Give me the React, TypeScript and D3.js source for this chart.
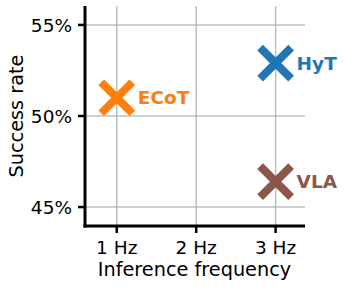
import React from 'react';
import * as d3 from 'd3';

const models = ['ECoT', 'HyT', 'VLA'];
const frequencies = [1, 3, 3];
const successRates = [51.0, 52.9, 46.4];
const colors = ['#ff7f0e', '#1f77b4', '#8c564b'];
const xTicks = [1, 2, 3];
const yTicks = [45, 50, 55];

const W = 346;
const H = 287;
const margin = { top: 6, right: 41, bottom: 61, left: 85 };
const font = 'DejaVu Sans, sans-serif';

const App: React.FC = () => {
  const x = d3.scaleLinear().domain([0.6, 3.37]).range([margin.left, W - margin.right]);
  const y = d3.scaleLinear().domain([43.96, 56.04]).range([H - margin.bottom, margin.top]);
  const [x0, x1] = x.range();
  const [y0, y1] = y.range();
  const arm = 15.5;

  return (
    <svg width={W} height={H} style={{ position: 'absolute', left: 0, top: 0 }} fontFamily={font}>
      <rect width={W} height={H} fill="#fff" />
      {/* grid */}
      {xTicks.map(t => (
        <line key={'gx' + t} x1={x(t)} x2={x(t)} y1={y0} y2={y1} stroke="#b0b0b0" strokeWidth={1.5} strokeOpacity={0.8} />
      ))}
      {yTicks.map(t => (
        <line key={'gy' + t} x1={x0} x2={x1} y1={y(t)} y2={y(t)} stroke="#b0b0b0" strokeWidth={1.5} strokeOpacity={0.8} />
      ))}
      {/* markers */}
      {models.map((m, i) => {
        const cx = x(frequencies[i]);
        const cy = y(successRates[i]);
        return (
          <g key={m}>
            <path
              d={`M${cx - arm},${cy - arm}L${cx + arm},${cy + arm}M${cx - arm},${cy + arm}L${cx + arm},${cy - arm}`}
              stroke={colors[i]}
              strokeWidth={8}
              fill="none"
            />
            <text x={cx + 21} y={cy} dy="0.36em" fill={colors[i]} fontWeight="bold" fontSize={18.5}>
              {m}
            </text>
          </g>
        );
      })}
      {/* spines */}
      <line x1={x0} x2={x0} y1={y0 + 1.5} y2={y1} stroke="#000" strokeWidth={3} />
      <line x1={x0 - 1.5} x2={x1} y1={y0} y2={y0} stroke="#000" strokeWidth={3} />
      {/* y ticks */}
      {yTicks.map(t => (
        <g key={'ty' + t}>
          <line x1={x0 - 7} x2={x0} y1={y(t)} y2={y(t)} stroke="#000" strokeWidth={2.5} />
          <text x={x0 - 13} y={y(t)} dy="0.36em" textAnchor="end" fontSize={18.5}>
            {t}%
          </text>
        </g>
      ))}
      {/* x ticks */}
      {xTicks.map(t => (
        <g key={'tx' + t}>
          <line x1={x(t)} x2={x(t)} y1={y0} y2={y0 + 7} stroke="#000" strokeWidth={2.5} />
          <text x={x(t)} y={254} textAnchor="middle" fontSize={18.5}>
            {t} Hz
          </text>
        </g>
      ))}
      <text x={(x0 + x1) / 2 - 0.5} y={276} textAnchor="middle" fontSize={19.3}>
        Inference frequency
      </text>
      <text transform={`translate(23,${(y0 + y1) / 2}) rotate(-90)`} textAnchor="middle" fontSize={19.3}>
        Success rate
      </text>
    </svg>
  );
};

export default App;
